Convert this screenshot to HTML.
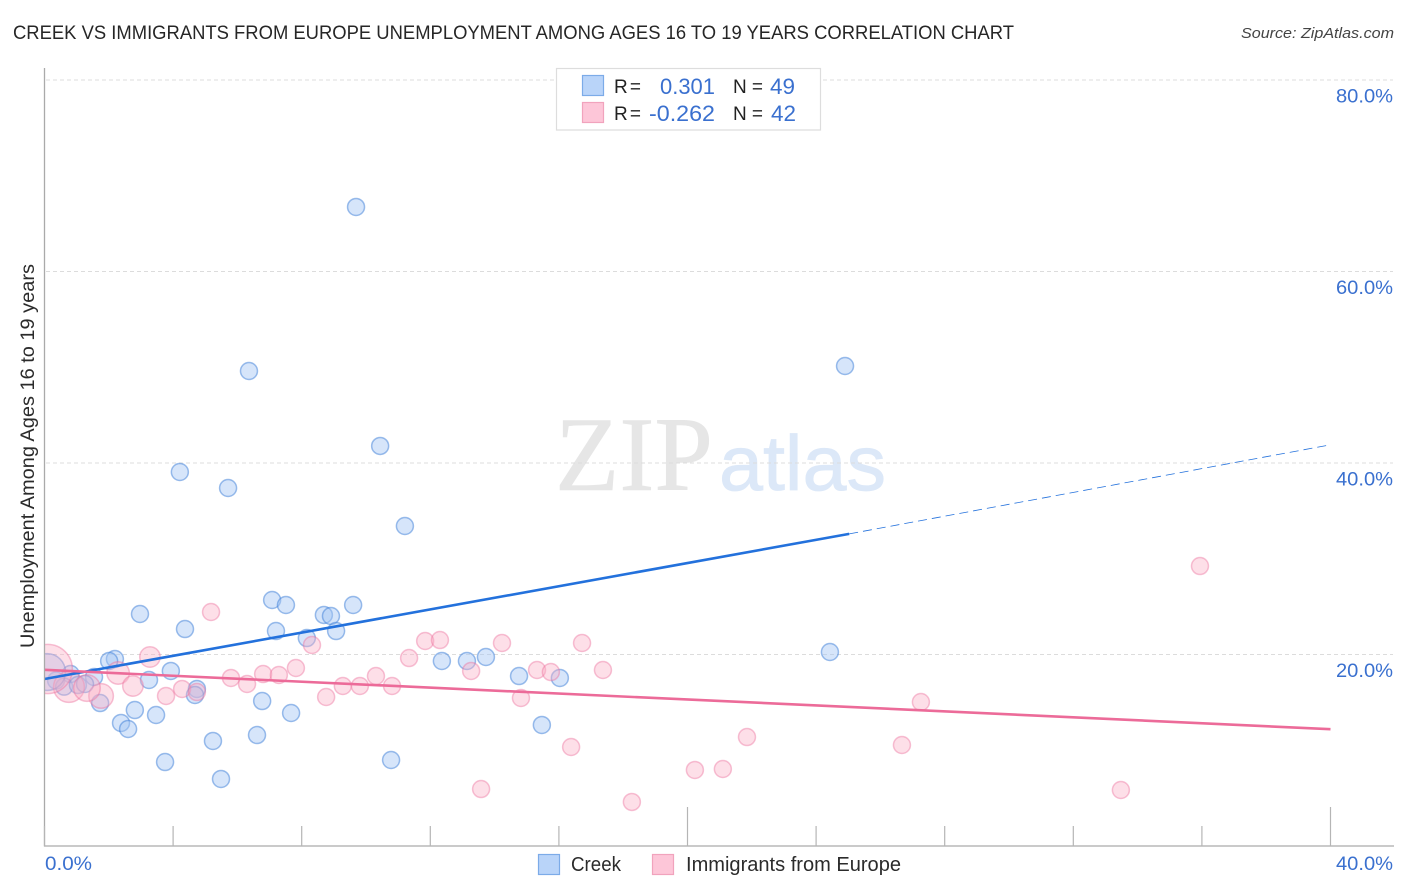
<!DOCTYPE html>
<html lang="en">
<head>
<meta charset="utf-8">
<title>Creek vs Immigrants from Europe Unemployment Among Ages 16 to 19 Years Correlation Chart</title>
<style>
html,body{margin:0;padding:0;background:#fff;width:1406px;height:892px;overflow:hidden}
svg{display:block}
text{font-family:"Liberation Sans",sans-serif}
</style>
</head>
<body>
<svg id="chart" width="1406" height="892" viewBox="0 0 1406 892" xmlns="http://www.w3.org/2000/svg">
  <text x="13" y="39" font-size="19" fill="#262626" textLength="1001" lengthAdjust="spacingAndGlyphs">CREEK VS IMMIGRANTS FROM EUROPE UNEMPLOYMENT AMONG AGES 16 TO 19 YEARS CORRELATION CHART</text>
  <text x="1241" y="38" font-size="15" font-style="italic" fill="#444" textLength="153" lengthAdjust="spacingAndGlyphs">Source: ZipAtlas.com</text>
  <g id="watermark">
    <text x="555" y="490" style="font-family:'Liberation Serif',serif" font-size="106" fill="#e6e6e6" stroke="#e6e6e6" stroke-width="0.6" textLength="158" lengthAdjust="spacingAndGlyphs">ZIP</text>
    <text x="719" y="490" font-size="78" fill="#dce8f8" stroke="#dce8f8" stroke-width="0.8" textLength="167" lengthAdjust="spacingAndGlyphs">atlas</text>
  </g>
  <g id="grid"></g>
  <g id="points-creek"></g>
  <g id="points-immigrants"></g>
  <g id="trends"></g>
  <rect x="0" y="600" width="44.5" height="120" fill="#fff"/>
  <g id="axes"></g>
  <g id="labels"></g>
  <g id="stats-legend">
    <rect x="556.5" y="68.5" width="264" height="61.5" fill="#fff" stroke="#ddd" stroke-width="1.2"/>
    <rect x="582.5" y="75.5" width="21" height="20" fill="#b9d4f9" stroke="#7cabe8" stroke-width="1.2"/>
    <rect x="582.5" y="102.5" width="21" height="20" fill="#fdc6d8" stroke="#f1a3bd" stroke-width="1.2"/>
    <text x="614" y="93" font-size="19" fill="#222" textLength="27">R =</text>
    <text x="660" y="94" font-size="22" fill="#3a70cf" textLength="55" lengthAdjust="spacingAndGlyphs">0.301</text>
    <text x="733" y="93" font-size="19" fill="#222" textLength="30">N =</text>
    <text x="770" y="94" font-size="22" fill="#3a70cf" textLength="25" lengthAdjust="spacingAndGlyphs">49</text>
    <text x="614" y="120" font-size="19" fill="#222" textLength="27">R =</text>
    <text x="649" y="121" font-size="22" fill="#3a70cf" textLength="66" lengthAdjust="spacingAndGlyphs">-0.262</text>
    <text x="733" y="120" font-size="19" fill="#222" textLength="30">N =</text>
    <text x="771" y="121" font-size="22" fill="#3a70cf" textLength="25" lengthAdjust="spacingAndGlyphs">42</text>
  </g>
  <g id="bottom-legend">
    <rect x="538.5" y="854.5" width="21" height="20" fill="#b9d4f9" stroke="#7cabe8" stroke-width="1.2"/>
    <text x="571" y="871" font-size="20" fill="#2b2b2b" textLength="50" lengthAdjust="spacingAndGlyphs">Creek</text>
    <rect x="652.5" y="854.5" width="21" height="20" fill="#fdc6d8" stroke="#f1a3bd" stroke-width="1.2"/>
    <text x="686" y="871" font-size="20" fill="#2b2b2b" textLength="215" lengthAdjust="spacingAndGlyphs">Immigrants from Europe</text>
  </g>
  <text transform="translate(34,648) rotate(-90)" font-size="19" fill="#2b2b2b" textLength="384" lengthAdjust="spacingAndGlyphs">Unemployment Among Ages 16 to 19 years</text>
</svg>
<script>
const yTickValues = [20, 40, 60, 80];
const yTickLabels = ["20.0%", "40.0%", "60.0%", "80.0%"];
const xTickValues = [0, 4, 8, 12, 16, 20, 24, 28, 32, 36, 40];
const xMajorTicks = [20, 40];
const xEndValues = [0, 40];
const xEndLabels = ["0.0%", "40.0%"];

const creekX = [9.69,6.36,24.90,10.44,4.21,5.71,11.21,7.08,7.51,9.60,2.97,8.69,8.91,4.37,7.20,9.07,8.16,24.43,2.19,2.01,12.36,13.14,13.73,3.93,1.54,3.25,14.76,16.03,0.81,0.36,0.61,1.04,1.26,4.74,4.68,1.73,6.77,7.67,3.47,2.38,2.81,2.60,15.47,6.61,5.24,3.75,10.78,5.49,0.08];
const creekY = [66.74,49.61,50.13,41.78,39.06,37.39,33.42,25.69,25.17,25.17,24.23,24.13,24.02,22.66,22.45,22.45,21.72,20.26,19.53,19.32,19.32,19.32,19.74,18.28,17.65,17.34,17.75,17.55,17.96,17.28,16.64,16.81,16.92,16.40,15.77,14.93,15.14,13.89,13.68,12.85,14.20,12.22,12.64,11.59,10.97,8.77,8.98,7.00,18.17];
const creekWeight = [1,1,1,1,1,1,1,1,1,1,1,1,1,1,1,1,1,1,1,1,1,1,1,1,1,1,1,1,1,1,1,1,1,1,1,1,1,1,1,1,1,1,1,1,1,1,1,1,4.7];

const immigrantsX = [35.94,5.18,14.23,16.72,11.84,12.30,8.32,3.28,11.34,17.37,13.27,15.32,15.75,7.82,2.29,6.80,7.29,10.31,5.80,6.30,2.75,9.28,9.81,10.81,4.28,4.74,3.78,8.76,14.82,1.76,0.76,1.32,0.10,27.26,26.67,21.85,16.38,20.23,21.10,13.58,18.27,33.48];
const immigrantsY = [29.24,24.44,21.20,21.20,21.41,21.51,20.99,19.74,19.63,18.38,18.28,18.38,18.17,18.59,18.07,17.96,17.86,17.75,17.55,16.92,16.71,16.71,16.71,16.71,16.40,16.08,15.67,15.56,15.46,15.67,16.61,16.50,18.49,15.04,10.55,11.38,10.34,7.94,8.04,5.95,4.60,5.85];
const immigrantsWeight = [1,1,1,1,1,1,1,1.45,1,1,1,1,1,1,1.75,1,1,1,1,1,1.45,1,1,1,1,1,1,1,1,2.1,3.3,2.45,8.4,1,1,1,1,1,1,1,1,1];

const creekTrendX = [0, 25.03, 40];
const creekTrendY = [17.44, 32.6, 41.9];
const immigrantsTrendX = [0, 40];
const immigrantsTrendY = [18.4, 12.2];

const NS = "http://www.w3.org/2000/svg";
const xScale = v => 44.5 + v * 32.15;
const yScale = v => 846 - v * 9.575;
const rScale = w => 8.5 * Math.sqrt(w);

function make(parentId, tag, attrs) {
  const el = document.createElementNS(NS, tag);
  for (const k in attrs) el.setAttribute(k, attrs[k]);
  document.getElementById(parentId).appendChild(el);
  return el;
}

yTickValues.forEach(v => {
  const g = make("grid", "line", {x1: 46, x2: 1393, y1: yScale(v), y2: yScale(v), stroke: "#dcdcdc", "stroke-width": 1, "stroke-dasharray": "4 3"});
  
  
});

const yAxis = make("axes", "line", {x1: 44.5, x2: 44.5, y1: 68, y2: 846.5, stroke: "#aaa", "stroke-width": 1.3});


const xAxis = make("axes", "line", {x1: 44, x2: 1394, y1: 846, y2: 846, stroke: "#aaa", "stroke-width": 1.3});



xTickValues.forEach(v => {
  const top = xMajorTicks.includes(v) ? 807 : 826;
  const t = make("axes", "line", {x1: xScale(v), x2: xScale(v), y1: top, y2: 846, stroke: "#b5b5b5", "stroke-width": 1.2});
  
  
});

function drawPoints(groupId, xs, ys, ws, fill, stroke) {
  xs.forEach((x, i) => {
    const c = make(groupId, "circle", {cx: xScale(x), cy: yScale(ys[i]), r: rScale(ws[i]), fill: fill, stroke: stroke, "stroke-width": 1.5});
    
    
  });
}
drawPoints("points-creek", creekX, creekY, creekWeight, "rgba(165,198,243,0.45)", "rgba(60,125,215,0.5)");
drawPoints("points-immigrants", immigrantsX, immigrantsY, immigrantsWeight, "rgba(250,175,198,0.4)", "rgba(236,110,155,0.42)");

const creekSolid = make("trends", "line", {x1: xScale(creekTrendX[0]), y1: yScale(creekTrendY[0]), x2: xScale(creekTrendX[1]), y2: yScale(creekTrendY[1]), stroke: "#2371dc", "stroke-width": 2.6});


const creekDash = make("trends", "line", {x1: xScale(creekTrendX[1]), y1: yScale(creekTrendY[1]), x2: xScale(creekTrendX[2]), y2: yScale(creekTrendY[2]), stroke: "#2371dc", "stroke-width": 0.8, "stroke-dasharray": "9 5"});


const immigrantsLine = make("trends", "line", {x1: xScale(immigrantsTrendX[0]), y1: yScale(immigrantsTrendY[0]), x2: xScale(immigrantsTrendX[1]), y2: yScale(immigrantsTrendY[1]), stroke: "#ec6b99", "stroke-width": 2.6});



yTickValues.forEach((v, i) => {
  const t = make("labels", "text", {x: 1393, y: yScale(v) + 22.5, "text-anchor": "end", "font-size": 19, fill: "#3a70cf", textLength: 57, lengthAdjust: "spacingAndGlyphs"});
  t.textContent = yTickLabels[i];
  
  
});
xEndValues.forEach((v, i) => {
  const t = make("labels", "text", {x: v === 0 ? 45 : 1336, y: 870, "font-size": 19, fill: "#3a70cf", textLength: v === 0 ? 47 : 57, lengthAdjust: "spacingAndGlyphs"});
  t.textContent = xEndLabels[i];
  
  
});
</script>
</body>
</html>
